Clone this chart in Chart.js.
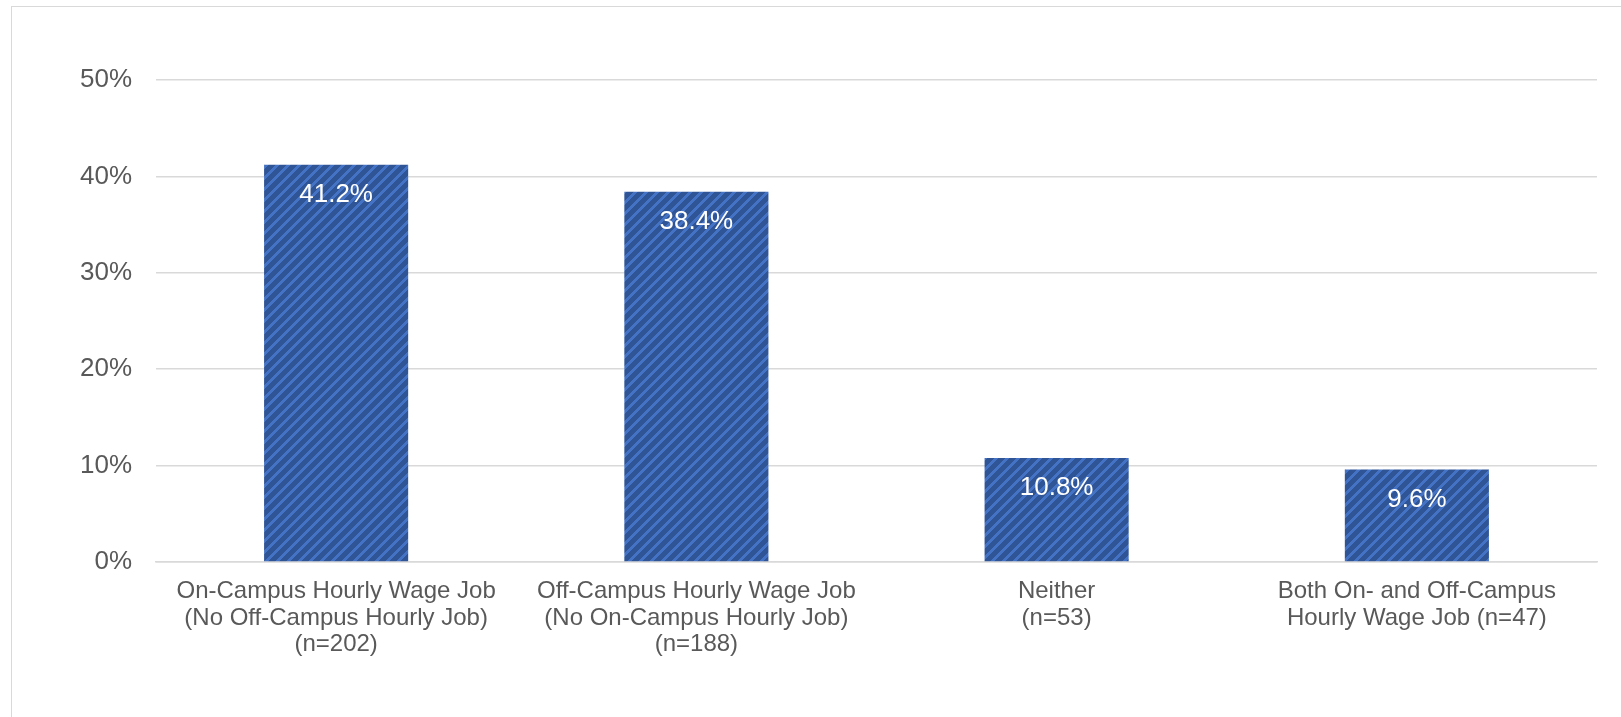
<!DOCTYPE html>
<html>
<head>
<meta charset="utf-8">
<script src="https://cdn.jsdelivr.net/npm/chart.js@4.4.1/dist/chart.umd.min.js"></script>
<style>
  html, body { margin: 0; padding: 0; background: #fff; overflow: hidden; }
  #wrap { position: relative; width: 1621px; height: 717px; }
  #frame { position: absolute; left: 11px; top: 6px; width: 1700px; height: 800px; border: 1.5px solid #d9d9d9; box-sizing: border-box; }
  canvas { position: absolute; left: 0; top: 0; }
</style>
</head>
<body>
<div id="wrap">
  <div id="frame"></div>
  <canvas id="c" width="1621" height="717"></canvas>
</div>
<script>
const categories = [
  ["On-Campus Hourly Wage Job", "(No Off-Campus Hourly Job)", "(n=202)"],
  ["Off-Campus Hourly Wage Job", "(No On-Campus Hourly Job)", "(n=188)"],
  ["Neither", "(n=53)"],
  ["Both On- and Off-Campus", "Hourly Wage Job (n=47)"]
];
const values = [41.2, 38.4, 10.8, 9.6];
const valueLabels = ["41.2%", "38.4%", "10.8%", "9.6%"];
const yTicks = [0, 10, 20, 30, 40, 50];

function makePattern() {
  const P = 11;
  const t = document.createElement('canvas');
  t.width = P; t.height = P;
  const g = t.getContext('2d');
  g.fillStyle = '#2F5597';
  g.fillRect(0, 0, P, P);
  g.fillStyle = '#4472C4';
  for (let y = 0; y < P; y++) {
    for (let x = 0; x < P; x++) {
      if ((x + y) % P < 4) g.fillRect(x, y, 1, 1);
    }
  }
  return document.getElementById('c').getContext('2d').createPattern(t, 'repeat');
}

const valueLabelPlugin = {
  id: 'valueLabels',
  afterDatasetsDraw(chart) {
    const ctx = chart.ctx;
    const meta = chart.getDatasetMeta(0);
    ctx.save();
    ctx.fillStyle = '#ffffff';
    ctx.font = '26px "Liberation Sans", Arial, sans-serif';
    ctx.textAlign = 'center';
    ctx.textBaseline = 'middle';
    meta.data.forEach((bar, i) => {
      ctx.fillText(valueLabels[i], bar.x, bar.y + 30);
    });
    ctx.restore();
  }
};

new Chart(document.getElementById('c'), {
  type: 'bar',
  data: {
    labels: categories,
    datasets: [{
      data: values,
      backgroundColor: makePattern(),
      borderWidth: 0,
      categoryPercentage: 1.0,
      barPercentage: 0.4
    }]
  },
  options: {
    responsive: false,
    animation: false,
    devicePixelRatio: 1,
    layout: { padding: { left: 0, right: 24, top: 80, bottom: 0 } },
    plugins: { legend: { display: false }, tooltip: { enabled: false } },
    scales: {
      x: {
        grid: { display: false, drawTicks: false },
        border: { display: true, color: '#d9d9d9', width: 1.5 },
        ticks: {
          color: '#595959',
          font: { family: '"Liberation Sans", Arial, sans-serif', size: 24, lineHeight: 1.11 },
          padding: 16,
          maxRotation: 0,
          autoSkip: false
        },
        afterFit(scale) { scale.height = 717 - 562; }
      },
      y: {
        min: 0, max: 50,
        afterBuildTicks(scale) { scale.ticks = yTicks.map(v => ({ value: v })); },
        grid: { color: '#d9d9d9', lineWidth: 1.5, drawTicks: false },
        border: { display: false },
        ticks: {
          color: '#595959',
          font: { family: '"Liberation Sans", Arial, sans-serif', size: 26 },
          padding: 24,
          callback: v => v + '%'
        },
        afterFit(scale) { scale.width = 156; }
      }
    }
  },
  plugins: [valueLabelPlugin]
});
</script>
</body>
</html>
